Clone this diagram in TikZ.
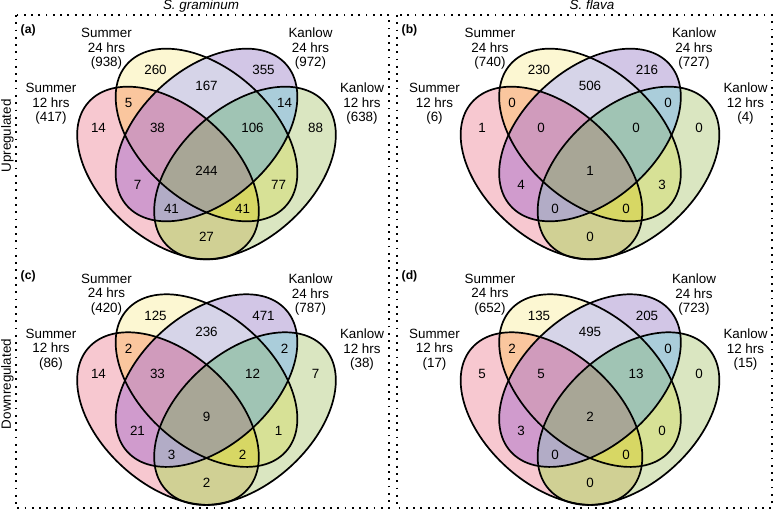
\documentclass[tikz,border=0pt]{standalone}
\usepackage{fontspec}
\setmainfont{Liberation Sans}
\definecolor{cA}{RGB}{247,200,208}
\definecolor{cB}{RGB}{252,247,210}
\definecolor{cC}{RGB}{210,198,230}
\definecolor{cD}{RGB}{218,230,193}
\definecolor{cAB}{RGB}{250,198,158}
\definecolor{cAC}{RGB}{208,155,205}
\definecolor{cAD}{RGB}{208,208,148}
\definecolor{cBC}{RGB}{214,212,232}
\definecolor{cBD}{RGB}{215,225,150}
\definecolor{cCD}{RGB}{170,205,218}
\definecolor{cABC}{RGB}{208,155,188}
\definecolor{cABD}{RGB}{215,215,100}
\definecolor{cACD}{RGB}{178,172,198}
\definecolor{cBCD}{RGB}{160,196,180}
\definecolor{cABCD}{RGB}{168,166,150}
\tikzset{
  eA/.style={shift={(-0.1236,-0.1284)},rotate=-45},
  eB/.style={rotate=-45},
  eC/.style={rotate=45},
  eD/.style={shift={(0.1236,-0.1284)},rotate=45},
  outline/.style={draw=black,line width=1.7pt},
  num/.style={font=\fontsize{13.4}{14.5}\selectfont,inner sep=0pt},
  setlab/.style={font=\fontsize{13.4}{14.5}\selectfont,align=center,inner sep=0pt},
  plab/.style={font=\fontsize{12.2}{14}\selectfont\bfseries,inner sep=0pt,anchor=base west},
  ttl/.style={font=\fontsize{13.4}{15}\selectfont\itshape,inner sep=0pt,anchor=base},
  side/.style={font=\fontsize{13.4}{15}\selectfont,rotate=90,inner sep=0pt},
  dotbox/.style={line width=1.8pt,dash pattern=on 1.8pt off 5.47pt},
}
\def\posx{{-51,57,0,-78,78,-108,-49,46,109,0,-69,72,-35,36,0}}
\def\posy{{65,65,49,32,32,7,7,7,7,-36,-50,-50,-74,-74,-102}}
\newcommand\clipE[1]{\clip[#1] (0,0) ellipse [x radius=0.35, y radius=0.218];}
\newcommand\reg[2]{\begin{scope}#1\fill[#2] (-1,-1) rectangle (1,1);\end{scope}}
\newcommand\vennshapes{%
  \begin{scope}[xscale=311.5,yscale=296]
    \reg{\clipE{eA}}{cA}
    \reg{\clipE{eB}}{cB}
    \reg{\clipE{eC}}{cC}
    \reg{\clipE{eD}}{cD}
    \reg{\clipE{eA}\clipE{eB}}{cAB}
    \reg{\clipE{eA}\clipE{eC}}{cAC}
    \reg{\clipE{eA}\clipE{eD}}{cAD}
    \reg{\clipE{eB}\clipE{eC}}{cBC}
    \reg{\clipE{eB}\clipE{eD}}{cBD}
    \reg{\clipE{eC}\clipE{eD}}{cCD}
    \reg{\clipE{eA}\clipE{eB}\clipE{eC}}{cABC}
    \reg{\clipE{eA}\clipE{eB}\clipE{eD}}{cABD}
    \reg{\clipE{eA}\clipE{eC}\clipE{eD}}{cACD}
    \reg{\clipE{eB}\clipE{eC}\clipE{eD}}{cBCD}
    \reg{\clipE{eA}\clipE{eB}\clipE{eC}\clipE{eD}}{cABCD}
    \draw[outline,eA] (0,0) ellipse [x radius=0.35, y radius=0.218];
    \draw[outline,eB] (0,0) ellipse [x radius=0.35, y radius=0.218];
    \draw[outline,eC] (0,0) ellipse [x radius=0.35, y radius=0.218];
    \draw[outline,eD] (0,0) ellipse [x radius=0.35, y radius=0.218];
  \end{scope}}
\newcommand\vennnums[2]{%
  \foreach \t [count=\i] in {#2} {%
    \pgfmathsetmacro\px{\posx[\i-1]}%
    \pgfmathsetmacro\py{\posy[\i-1]}%
    \node[num] (#1n\i) at (\px,\py) {\t};}}
\newcommand\vennpanel[8]{%
  \begin{scope}[shift={(#2,#3)}]
    \vennshapes
    \vennnums{#1}{#4}
    \node[setlab] (#1s24) at (-100,86) {Summer\\24 hrs\\(#5)};
    \node[setlab] (#1k24) at (104,86) {Kanlow\\24 hrs\\(#6)};
    \node[setlab] (#1s12) at (-155.5,31) {Summer\\12 hrs\\(#7)};
    \node[setlab] (#1k12) at (155.5,31) {Kanlow\\12 hrs\\(#8)};
  \end{scope}}
\begin{document}
\begin{tikzpicture}[x=1pt,y=1pt]
  \useasboundingbox (0,0) rectangle (774,512);
  \fill[white] (0,0) rectangle (774,512);
  % dotted frames
  \draw[dotbox] (16,497) rectangle (389.3,4);
  \draw[dotbox] (397.3,497) rectangle (771.7,4);
  % titles
  \node[ttl] (t1) at (201,502) {S. graminum};
  \node[ttl] (t2) at (592,502) {S. flava};
  \node[side] (up) at (7.5,376) {Upregulated};
  \node[side] (down) at (7.5,128) {Downregulated};
  % panels
  \vennpanel{a}{206.5}{377}{260,355,167,5,14,14,38,106,88,244,7,77,41,41,27}{938}{972}{417}{638}
  \vennpanel{b}{590}{377}{230,216,506,0,0,1,0,0,0,1,4,3,0,0,0}{740}{727}{6}{4}
  \vennpanel{c}{206.5}{131.4}{125,471,236,2,2,14,33,12,7,9,21,1,3,2,2}{420}{787}{86}{38}
  \vennpanel{d}{590}{131.4}{135,205,495,2,0,5,5,13,0,2,3,0,0,0,0}{652}{723}{17}{15}
  % panel letters
  \node[plab] (la) at (20.5,478) {(a)};
  \node[plab] (lb) at (401.5,478) {(b)};
  \node[plab] (lc) at (20.5,232.5) {(c)};
  \node[plab] (ld) at (401.5,232.5) {(d)};
\end{tikzpicture}
\end{document}
